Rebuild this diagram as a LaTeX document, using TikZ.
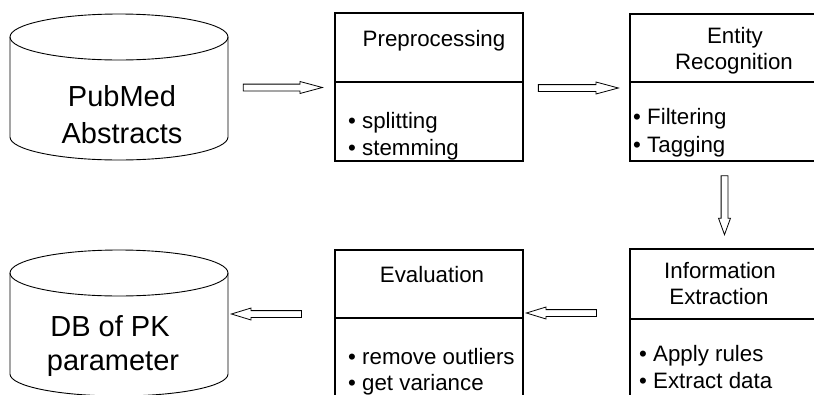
\documentclass[tikz,border=0pt]{standalone}
\usepackage{fontspec}
\setmainfont{Liberation Sans}
\usetikzlibrary{shapes.arrows}
\begin{document}
\begin{tikzpicture}[x=1pt,y=-1pt,
  stage/.style={draw, line width=1.1pt, minimum width=188pt, minimum height=148pt, inner sep=0pt},
  ttl/.style={anchor=base, font=\fontsize{22.3}{26}\selectfont, inner sep=0pt},
  item/.style={anchor=base west, font=\fontsize{22.3}{26}\selectfont, inner sep=0pt},
  dbtext/.style={anchor=base, font=\fontsize{29}{34}\selectfont, inner sep=0pt},
  dbwall/.style={line width=0.9pt},
  flow/.style={single arrow, draw, line width=0.8pt, inner sep=3pt, minimum width=0pt,
    single arrow head extend=2.6pt, single arrow tip angle=34},
]
\useasboundingbox (0,0) rectangle (814,394);
\clip (0,0) rectangle (814,394);

% ---- source database (cylinder)
\node[minimum width=218pt, minimum height=146pt, inner sep=0pt] (src) at (119,87) {};
\draw[dbwall] (119,37) ellipse[x radius=109, y radius=23];
\draw[dbwall] (10,37) -- (10,137) arc[start angle=180, end angle=0, x radius=109, y radius=23] -- (228,37);
\node[dbtext] (srcA) at (122,106) {PubMed};
\node[dbtext] (srcB) at (122,143) {Abstracts};

% ---- result database (cylinder)
\node[minimum width=218pt, minimum height=146pt, inner sep=0pt] (res) at (119,323) {};
\draw[dbwall] (119,273) ellipse[x radius=109, y radius=23];
\draw[dbwall] (10,273) -- (10,374) arc[start angle=180, end angle=0, x radius=109, y radius=22] -- (228,273);
\node[dbtext] (resA) at (110,336) {DB of PK};
\node[dbtext] (resB) at (113,370) {parameter};

% ---- processing stages
\node[stage] (pre) at (429,87) {};
\draw[line width=1.1pt] (pre.west |- 0,82) -- (pre.east |- 0,82);
\node[ttl] (preT) at (434,46) {Preprocessing};
\node[item] (preI1) at (348,128) {• splitting};
\node[item] (preI2) at (348,155) {• stemming};

\node[stage, minimum height=147pt] (ent) at (724,87.5) {};
\draw[line width=1.1pt] (ent.west |- 0,82) -- (ent.east |- 0,82);
\node[ttl] (entT1) at (735,43) {Entity};
\node[ttl] (entT2) at (734,69) {Recognition};
\node[item] (entI1) at (633,124) {• Filtering};
\node[item] (entI2) at (633,152) {• Tagging};

\node[stage] (ext) at (724,323) {};
\draw[line width=1.1pt] (ext.west |- 0,319) -- (ext.east |- 0,319);
\node[ttl] (extT1) at (720,278) {Information};
\node[ttl] (extT2) at (719,304) {Extraction};
\node[item] (extI1) at (639,361) {• Apply rules};
\node[item] (extI2) at (639,388) {• Extract data};

\node[stage] (eva) at (429,324) {};
\draw[line width=1.1pt] (eva.west |- 0,318) -- (eva.east |- 0,318);
\node[ttl] (evaT) at (432,282) {Evaluation};
\node[item] (evaI1) at (348,364) {• remove outliers};
\node[item] (evaI2) at (348,390) {• get variance};

% ---- hollow flow arrows between the stages
\node[flow, minimum height=79pt, single arrow tip angle=30] (f1) at (276.5,87.5) {};
\node[flow, minimum height=80pt, single arrow tip angle=30] (f2) at (572,88) {};
\node[flow, minimum height=59pt, shape border rotate=270, single arrow tip angle=40] (f3) at (724.5,200.5) {};
\node[flow, minimum height=70pt, shape border rotate=180] (f4) at (567,313) {};
\node[flow, minimum height=70pt, shape border rotate=180] (f5) at (272,314) {};
\end{tikzpicture}
\end{document}
